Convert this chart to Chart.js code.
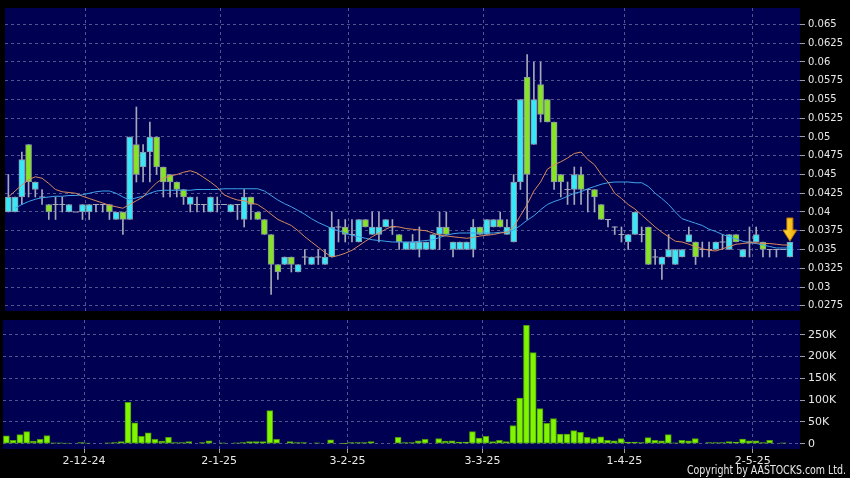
<!DOCTYPE html>
<html><head><meta charset="utf-8">
<script src="https://cdn.jsdelivr.net/npm/chart.js@4"></script>
<style>
html,body{margin:0;padding:0;background:#000;}
#wrap{position:relative;width:850px;height:478px;background:#000;overflow:hidden;}
canvas{position:absolute;left:0;}
#c1{top:0}
#c2{top:316px}
</style></head><body>
<div id="wrap"><canvas id="c1" width="850" height="316"></canvas><canvas id="c2" width="850" height="162"></canvas></div>
<script>
const dates = [
'14-11-24','15-11-24','18-11-24','19-11-24','20-11-24','21-11-24','22-11-24','25-11-24','26-11-24','27-11-24','28-11-24','29-11-24',
'2-12-24','3-12-24','4-12-24','5-12-24','6-12-24','9-12-24','10-12-24','11-12-24','12-12-24','13-12-24','16-12-24','17-12-24','18-12-24','19-12-24','20-12-24','23-12-24','24-12-24','27-12-24','30-12-24','31-12-24',
'2-1-25','3-1-25','6-1-25','7-1-25','8-1-25','9-1-25','10-1-25','13-1-25','14-1-25','15-1-25','16-1-25','17-1-25','20-1-25','21-1-25','22-1-25','23-1-25','24-1-25','27-1-25','28-1-25',
'3-2-25','4-2-25','5-2-25','6-2-25','7-2-25','10-2-25','11-2-25','12-2-25','13-2-25','14-2-25','17-2-25','18-2-25','19-2-25','20-2-25','21-2-25','24-2-25','25-2-25','26-2-25','27-2-25','28-2-25',
'3-3-25','4-3-25','5-3-25','6-3-25','7-3-25','10-3-25','11-3-25','12-3-25','13-3-25','14-3-25','17-3-25','18-3-25','19-3-25','20-3-25','21-3-25','24-3-25','25-3-25','26-3-25','27-3-25','28-3-25','31-3-25',
'1-4-25','2-4-25','3-4-25','7-4-25','8-4-25','9-4-25','10-4-25','11-4-25','14-4-25','15-4-25','16-4-25','17-4-25','22-4-25','23-4-25','24-4-25','25-4-25','28-4-25','29-4-25','30-4-25',
'2-5-25','6-5-25','7-5-25','8-5-25','9-5-25','12-5-25'
];
const openP = [0.040,0.040,0.042,0.049,0.043,0.042,0.041,0.041,0.041,0.040,
0.040,0.040,0.040,0.041,0.041,0.041,0.039,0.040,0.039,0.049,
0.046,0.048,0.050,0.046,0.045,0.044,0.043,0.041,0.041,0.041,
0.040,0.041,0.041,0.040,0.041,0.039,0.042,0.040,0.039,0.037,
0.033,0.033,0.034,0.032,0.034,0.033,0.034,0.033,0.034,0.038,
0.038,0.037,0.036,0.039,0.037,0.037,0.038,0.038,0.037,0.035,
0.035,0.035,0.035,0.035,0.037,0.038,0.035,0.035,0.035,0.035,
0.038,0.037,0.038,0.039,0.037,0.036,0.044,0.058,0.049,0.057,
0.055,0.052,0.045,0.043,0.043,0.045,0.043,0.043,0.041,0.039,
0.038,0.037,0.036,0.037,0.037,0.038,0.034,0.033,0.034,0.033,
0.034,0.036,0.036,0.035,0.035,0.035,0.036,0.035,0.037,0.034,
0.036,0.036,0.036,0.035,0.035,0.035,0.034];
const highP = [0.045,0.042,0.048,0.049,0.044,0.043,0.041,0.042,0.042,0.041,
0.040,0.041,0.041,0.041,0.041,0.041,0.040,0.040,0.050,0.054,
0.049,0.052,0.050,0.046,0.045,0.044,0.043,0.042,0.042,0.041,
0.042,0.042,0.041,0.041,0.041,0.043,0.042,0.040,0.039,0.037,
0.033,0.034,0.034,0.033,0.035,0.034,0.035,0.035,0.040,0.039,
0.039,0.039,0.039,0.039,0.040,0.040,0.039,0.039,0.037,0.036,
0.037,0.038,0.036,0.037,0.040,0.040,0.036,0.036,0.036,0.039,
0.038,0.039,0.039,0.040,0.039,0.045,0.055,0.061,0.060,0.060,
0.055,0.052,0.045,0.044,0.046,0.046,0.043,0.043,0.041,0.039,
0.038,0.038,0.037,0.040,0.038,0.038,0.035,0.034,0.037,0.035,
0.035,0.038,0.036,0.036,0.036,0.036,0.037,0.037,0.037,0.035,
0.038,0.038,0.036,0.035,0.035,0.035,0.036];
const lowP = [0.040,0.040,0.041,0.042,0.042,0.041,0.039,0.039,0.040,0.040,
0.040,0.039,0.039,0.040,0.040,0.039,0.039,0.037,0.039,0.044,
0.044,0.044,0.045,0.042,0.042,0.042,0.041,0.040,0.040,0.040,
0.040,0.040,0.041,0.040,0.039,0.038,0.039,0.039,0.037,0.029,
0.031,0.033,0.032,0.032,0.033,0.033,0.033,0.033,0.034,0.036,
0.036,0.036,0.036,0.038,0.037,0.036,0.038,0.037,0.035,0.035,
0.035,0.034,0.035,0.035,0.035,0.037,0.034,0.035,0.035,0.034,
0.037,0.037,0.038,0.038,0.037,0.036,0.043,0.039,0.049,0.052,
0.052,0.043,0.042,0.041,0.041,0.041,0.040,0.040,0.039,0.038,
0.037,0.036,0.035,0.037,0.036,0.033,0.033,0.031,0.034,0.033,
0.034,0.036,0.033,0.034,0.034,0.035,0.035,0.035,0.036,0.034,
0.034,0.036,0.034,0.034,0.034,0.035,0.034];
const closeP = [0.042,0.042,0.047,0.044,0.044,0.042,0.040,0.041,0.041,0.041,
0.040,0.041,0.041,0.041,0.041,0.040,0.040,0.039,0.050,0.045,
0.048,0.050,0.046,0.044,0.044,0.043,0.042,0.042,0.041,0.041,
0.042,0.041,0.041,0.041,0.041,0.042,0.041,0.039,0.037,0.033,
0.032,0.034,0.033,0.033,0.034,0.034,0.034,0.034,0.038,0.038,
0.037,0.037,0.039,0.038,0.038,0.038,0.039,0.038,0.036,0.036,
0.036,0.036,0.036,0.037,0.038,0.037,0.036,0.036,0.036,0.038,
0.037,0.039,0.039,0.038,0.038,0.044,0.055,0.045,0.055,0.053,
0.052,0.044,0.044,0.043,0.045,0.043,0.043,0.042,0.039,0.039,
0.038,0.037,0.037,0.040,0.037,0.033,0.034,0.034,0.035,0.035,
0.035,0.037,0.034,0.035,0.035,0.036,0.036,0.037,0.036,0.035,
0.036,0.037,0.035,0.035,0.035,0.035,0.036];
const volumeK = [18,8,21,28,6,10,19,2,2,1.5,
0,3,1.5,0,0,2,3,5,95,48,
17,25,10,6,15,3,3,5,0,3,
7,0,2,0,2,3,5,5,5,76,
10,0,5,3,3,0,2,0,9,0,
1,3,3,3,5,0,0,0,15,3,
3,7,10,0,12,6,7,4,4,28,
13,17,5,8,5,42,105,272,209,81,
47,58,22,22,30,26,15,12,16,8,
7,12,4,4,3,14,8,7,21,2,
8,7,12,0,3,3,3,5,4,11,
7,7,3,8,0,2,0];
const maShort = [0.0420,0.0428,0.0436,0.0443,0.0447,0.0445,0.0438,0.0430,0.0427,0.0426,
0.0425,0.0421,0.0418,0.0415,0.0412,0.0409,0.0407,0.0405,0.0410,0.0415,
0.0420,0.0430,0.0439,0.0445,0.0448,0.0450,0.0453,0.0455,0.0452,0.0446,
0.0440,0.0433,0.0423,0.0419,0.0416,0.0415,0.0412,0.0410,0.0404,0.0397,
0.0390,0.0386,0.0382,0.0375,0.0367,0.0360,0.0353,0.0346,0.0340,0.0342,
0.0345,0.0349,0.0355,0.0361,0.0367,0.0372,0.0377,0.0381,0.0380,0.0378,
0.0377,0.0376,0.0375,0.0372,0.0369,0.0368,0.0367,0.0366,0.0365,0.0366,
0.0368,0.0369,0.0370,0.0372,0.0373,0.0380,0.0395,0.0410,0.0428,0.0440,
0.0457,0.0463,0.0467,0.0472,0.0478,0.0480,0.0470,0.0463,0.0450,0.0440,
0.0425,0.0418,0.0410,0.0404,0.0396,0.0388,0.0380,0.0373,0.0367,0.0361,
0.0360,0.0357,0.0354,0.0351,0.0349,0.0348,0.0351,0.0354,0.0357,0.0358,
0.0359,0.0359,0.0358,0.0358,0.0357,0.0356,0.0356];
const maLong = [null,0.0405,0.0410,0.0414,0.0417,0.0419,0.0420,0.0421,0.0421,0.0422,
0.0422,0.0423,0.0425,0.0427,0.0428,0.0428,0.0425,0.0420,0.0416,0.0419,
0.0421,0.0425,0.0428,0.0429,0.0429,0.0429,0.0429,0.0429,0.0430,0.0430,
0.0430,0.0430,0.0431,0.0431,0.0431,0.0431,0.0431,0.0431,0.0428,0.0422,
0.0416,0.0411,0.0407,0.0402,0.0397,0.0391,0.0386,0.0382,0.0378,0.0375,
0.0372,0.0369,0.0367,0.0365,0.0363,0.0362,0.0361,0.0360,0.0360,0.0360,
0.0360,0.0361,0.0362,0.0363,0.0366,0.0369,0.0371,0.0372,0.0372,0.0372,
0.0372,0.0372,0.0372,0.0373,0.0373,0.0376,0.0382,0.0389,0.0395,0.0403,
0.0410,0.0414,0.0417,0.0421,0.0425,0.0427,0.0431,0.0434,0.0437,0.0439,
0.0440,0.0440,0.0440,0.0439,0.0439,0.0434,0.0425,0.0418,0.0410,0.0400,
0.0391,0.0388,0.0385,0.0382,0.0377,0.0374,0.0370,0.0367,0.0364,0.0361,
0.0359,0.0358,0.0356,0.0354,0.0352,0.0352,0.0352];
const priceTicks = [0.0275,0.03,0.0325,0.035,0.0375,0.04,0.0425,0.045,0.0475,0.05,0.0525,0.055,0.0575,0.06,0.0625,0.065];
const volumeTicks = [0,50000,100000,150000,200000,250000];
const volumeTickLabels = ['0','50K','100K','150K','200K','250K'];

// ---- derived ----
const N = dates.length;
const monthStarts = [];
for (let i = 1; i < N; i++) {
  if (dates[i].split('-')[1] !== dates[i-1].split('-')[1]) monthStarts.push(i);
}
const UP = '#38e8f6', DOWN = '#86e424', EDGE = '#8b93a6', WICK = '#a4a8b8';
const NAVY = '#000052', GRID = 'rgba(135,140,185,0.6)', TXT = '#e8e8e8';

const wickData = [], bodyData = [], bodyColors = [], dojiData = [];
for (let i = 0; i < N; i++) {
  if (highP[i] > lowP[i]) wickData.push({x: i, y: [lowP[i], highP[i]]});
  if (closeP[i] !== openP[i]) {
    bodyData.push({x: i, y: [Math.min(openP[i], closeP[i]), Math.max(openP[i], closeP[i])]});
    bodyColors.push(closeP[i] > openP[i] ? UP : DOWN);
  } else {
    dojiData.push({x: i, y: closeP[i]});
  }
}
const maShortData = maShort.map((v, i) => ({x: i, y: v}));
const maLongData = maLong.map((v, i) => ({x: i, y: v}));
const volData = volumeK.map((v, i) => ({x: i, y: v * 1000}));

const bgPlugin = {
  id: 'bg',
  beforeDraw(chart) {
    const {ctx, chartArea: a} = chart;
    ctx.save();
    ctx.fillStyle = NAVY;
    ctx.fillRect(a.left, a.top, a.right - a.left, a.bottom - a.top);
    ctx.restore();
  }
};
const arrowPlugin = {
  id: 'arrow',
  afterDatasetsDraw(chart) {
    const {ctx, scales} = chart;
    const last = N - 1;
    const x = scales.x.getPixelForValue(last);
    const tip = scales.y.getPixelForValue(highP[last]) - 1;
    ctx.save();
    ctx.beginPath();
    ctx.moveTo(x, tip);
    ctx.lineTo(x - 7, tip - 11);
    ctx.lineTo(x - 3, tip - 11);
    ctx.lineTo(x - 3, tip - 23);
    ctx.lineTo(x + 3, tip - 23);
    ctx.lineTo(x + 3, tip - 11);
    ctx.lineTo(x + 7, tip - 11);
    ctx.closePath();
    const g = ctx.createLinearGradient(x - 7, 0, x + 7, 0);
    g.addColorStop(0, '#ffe040'); g.addColorStop(1, '#f0a800');
    ctx.fillStyle = g;
    ctx.fill();
    ctx.strokeStyle = '#c07800';
    ctx.lineWidth = 1;
    ctx.stroke();
    ctx.restore();
  }
};
const copyPlugin = {
  id: 'copy',
  afterDraw(chart) {
    const ctx = chart.ctx;
    const txt = 'Copyright by AASTOCKS.com Ltd.';
    ctx.save();
    ctx.font = '12px "Liberation Sans Narrow", "DejaVu Sans Condensed", sans-serif';
    const w = ctx.measureText(txt).width;
    const sx = Math.min(1, 159 / w);
    ctx.translate(846, 158);
    ctx.scale(sx, 1);
    ctx.fillStyle = TXT;
    ctx.textAlign = 'right';
    ctx.textBaseline = 'alphabetic';
    ctx.fillText(txt, 0, 0);
    ctx.restore();
  }
};
const noPad = s => { s.paddingTop = 0; s.paddingBottom = 0; };

const xCommon = {
  type: 'linear', min: -0.5, max: N + 0.5, offset: false,
  afterBuildTicks: s => { s.ticks = monthStarts.map(i => ({value: i - 0.5})); },
  grid: {color: GRID, offset: false, drawTicks: true, tickLength: 4, tickColor: '#9a9ab0'},
  border: {display: false, dash: [3, 3]}
};

new Chart(document.getElementById('c1'), {
  type: 'bar',
  data: {datasets: [
    {type: 'line', data: maShortData, borderColor: '#d98a5c', borderWidth: 1, pointRadius: 0, order: 1},
    {type: 'line', data: maLongData, borderColor: '#3ea4ea', borderWidth: 1, pointRadius: 0, order: 1},
    {type: 'bar', data: bodyData, backgroundColor: bodyColors, borderColor: EDGE, borderWidth: 1, borderSkipped: false, barThickness: 6, grouped: false, order: 2},
    {type: 'line', data: dojiData, showLine: false, pointStyle: 'line', pointRadius: 3, pointBorderColor: WICK, pointBorderWidth: 1, order: 2},
    {type: 'bar', data: wickData, backgroundColor: WICK, borderWidth: 0, barThickness: 1, grouped: false, order: 3}
  ]},
  options: {
    responsive: false, animation: false, events: [],
    layout: {padding: {left: 3, top: 8, right: 0, bottom: 5}},
    plugins: {legend: {display: false}, tooltip: {enabled: false}},
    scales: {
      x: Object.assign({}, xCommon, {
        ticks: {display: false},
        grid: {color: GRID, offset: false, drawTicks: false},
        afterFit: s => { s.height = 0; }
      }),
      y: {
        position: 'right', min: 0.0268, max: 0.0672,
        afterBuildTicks: s => { s.ticks = priceTicks.map(v => ({value: v})); },
        ticks: {color: TXT, font: {family: 'DejaVu Sans', size: 10}, padding: 3,
          callback: v => String(+Number(v).toFixed(4))},
        grid: {color: GRID, drawTicks: true, tickLength: 5, tickColor: '#9a9ab0'},
        border: {display: false, dash: [3, 3]},
        afterFit: s => { s.width = 50; noPad(s); }
      }
    }
  },
  plugins: [bgPlugin, arrowPlugin]
});

new Chart(document.getElementById('c2'), {
  type: 'bar',
  data: {datasets: [
    {data: volData, backgroundColor: '#80f400', borderColor: '#4c9c08', borderWidth: 1, borderSkipped: false, barThickness: 6, grouped: false}
  ]},
  options: {
    responsive: false, animation: false, events: [],
    layout: {padding: {left: 3, top: 4, right: 0, bottom: 0}},
    plugins: {legend: {display: false}, tooltip: {enabled: false}},
    scales: {
      x: Object.assign({}, xCommon, {
        ticks: {color: TXT, font: {family: 'DejaVu Sans', size: 11}, padding: 2, maxRotation: 0, autoSkip: false,
          callback: v => dates[Math.round(v + 0.5)]},
        afterFit: s => { s.height = 29; s.paddingLeft = 0; s.paddingRight = 0; }
      }),
      y: {
        position: 'right', min: -12000, max: 284000,
        afterBuildTicks: s => { s.ticks = volumeTicks.map(v => ({value: v})); },
        ticks: {color: TXT, font: {family: 'DejaVu Sans', size: 11}, padding: 3,
          callback: (v) => volumeTickLabels[volumeTicks.indexOf(v)]},
        grid: {color: GRID, drawTicks: true, tickLength: 5, tickColor: '#9a9ab0'},
        border: {display: false, dash: [3, 3]},
        afterFit: s => { s.width = 50; noPad(s); }
      }
    }
  },
  plugins: [bgPlugin, copyPlugin]
});
</script>
</body></html>
